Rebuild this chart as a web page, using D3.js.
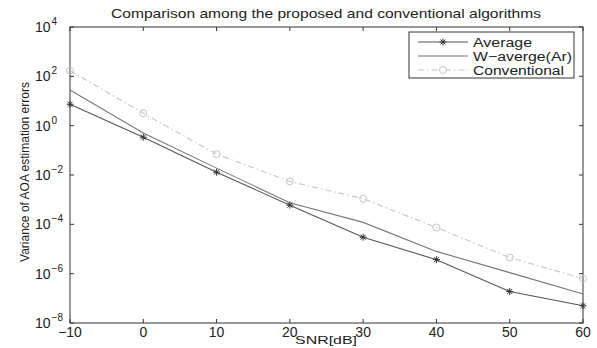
<!DOCTYPE html>
<html>
<head>
<meta charset="utf-8">
<script src="https://cdn.jsdelivr.net/npm/d3@7"></script>
<style>
  body { margin: 0; background: #fff; }
  text { font-family: "Liberation Sans", Arial, sans-serif; fill: #222; }
</style>
</head>
<body>
<div id="chart"></div>
<script>
// data
const snr = [-10, 0, 10, 20, 30, 40, 50, 60];
const average = [7.4, 0.34, 0.013, 6e-4, 3e-5, 3.7e-6, 1.9e-7, 5e-8];
const wAverage = [28, 0.5, 0.019, 7.5e-4, 1.2e-4, 8e-6, 1.1e-6, 1.5e-7];
const conventional = [170, 3.2, 0.07, 5.5e-3, 1.1e-3, 7.4e-5, 4.5e-6, 6.3e-7];
const xTicks = [-10, 0, 10, 20, 30, 40, 50, 60];
const yExponents = [4, 2, 0, -2, -4, -6, -8];
const legendNames = ["Average", "W\u2212averge(Ar)", "Conventional"];

const width = 597, height = 348;
const plotLeft = 70, plotRight = 583, plotTop = 27, plotBottom = 323;

const svg = d3.select("#chart").append("svg")
    .attr("width", width)
    .attr("height", height);

const x = d3.scaleLinear().domain([-10, 60]).range([plotLeft, plotRight]);
const y = d3.scaleLog().domain([1e-8, 1e4]).range([plotBottom, plotTop]);

// box
svg.append("rect")
    .attr("x", plotLeft).attr("y", plotTop)
    .attr("width", plotRight - plotLeft).attr("height", plotBottom - plotTop)
    .attr("fill", "none").attr("stroke", "#333").attr("stroke-width", 1);

// ticks on all four sides, pointing in
const tickLen = 4;
xTicks.forEach(t => {
    svg.append("line").attr("x1", x(t)).attr("x2", x(t))
        .attr("y1", plotBottom).attr("y2", plotBottom - tickLen).attr("stroke", "#333");
    svg.append("line").attr("x1", x(t)).attr("x2", x(t))
        .attr("y1", plotTop).attr("y2", plotTop + tickLen).attr("stroke", "#333");
    svg.append("text")
        .attr("x", x(t)).attr("y", 337)
        .attr("text-anchor", "middle")
        .attr("font-size", 14)
        .text(t < 0 ? "\u2212" + Math.abs(t) : t);
});

yExponents.forEach(e => {
    const yy = y(Math.pow(10, e));
    svg.append("line").attr("x1", plotLeft).attr("x2", plotLeft + tickLen)
        .attr("y1", yy).attr("y2", yy).attr("stroke", "#333");
    svg.append("line").attr("x1", plotRight).attr("x2", plotRight - tickLen)
        .attr("y1", yy).attr("y2", yy).attr("stroke", "#333");
    const lab = svg.append("text")
        .attr("x", 35).attr("y", yy + 5)
        .attr("font-size", 14);
    lab.append("tspan").text("10");
    lab.append("tspan")
        .attr("dy", -7)
        .attr("dx", 1)
        .attr("font-size", 10)
        .text(e < 0 ? "\u2212" + Math.abs(e) : e);
});

// title and axis labels
svg.append("text")
    .attr("x", 326).attr("y", 18)
    .attr("text-anchor", "middle")
    .attr("font-size", 13)
    .attr("textLength", 430)
    .attr("lengthAdjust", "spacingAndGlyphs")
    .text("Comparison among the proposed and conventional algorithms");

svg.append("text")
    .attr("x", 326).attr("y", 344)
    .attr("text-anchor", "middle")
    .attr("font-size", 11)
    .attr("textLength", 62)
    .attr("lengthAdjust", "spacingAndGlyphs")
    .text("SNR[dB]");

svg.append("text")
    .attr("transform", "translate(29,172) rotate(-90)")
    .attr("text-anchor", "middle")
    .attr("font-size", 12)
    .text("Variance of AOA estimation errors");

// series
const line = d3.line().x((d, i) => x(snr[i])).y(d => y(d));
const starPath = r => {
    const d = r * Math.SQRT1_2;
    return `M${-r},0L${r},0M0,${-r}L0,${r}M${-d},${-d}L${d},${d}M${-d},${d}L${d},${-d}`;
};

const series = [
    { name: legendNames[2], values: conventional, color: "#c4c4c4", dash: "6,3,1.5,3", marker: "circle" },
    { name: legendNames[1], values: wAverage, color: "#777", dash: null, marker: null },
    { name: legendNames[0], values: average, color: "#555", dash: null, marker: "star" }
];

series.forEach(s => {
    svg.append("path")
        .datum(s.values)
        .attr("d", line)
        .attr("fill", "none")
        .attr("stroke", s.color)
        .attr("stroke-width", 1.1)
        .attr("stroke-dasharray", s.dash);
    if (s.marker === "circle") {
        svg.selectAll(null).data(s.values).enter().append("circle")
            .attr("cx", (d, i) => x(snr[i])).attr("cy", d => y(d))
            .attr("r", 3.5)
            .attr("fill", "none").attr("stroke", s.color);
    } else if (s.marker === "star") {
        svg.selectAll(null).data(s.values).enter().append("path")
            .attr("transform", (d, i) => `translate(${x(snr[i])},${y(d)})`)
            .attr("d", starPath(3.5))
            .attr("stroke", "#333").attr("stroke-width", 1);
    }
});

// legend
const lg = svg.append("g");
lg.append("rect")
    .attr("x", 409).attr("y", 32)
    .attr("width", 165).attr("height", 46)
    .attr("fill", "#fff").attr("stroke", "#333");

const legendRows = [series[2], series[1], series[0]];
const legendWidths = [59, 99, 91];
legendRows.forEach((s, i) => {
    const yy = 42 + i * 14;
    lg.append("line")
        .attr("x1", 418).attr("x2", 468)
        .attr("y1", yy).attr("y2", yy)
        .attr("stroke", s.color).attr("stroke-width", 1.1)
        .attr("stroke-dasharray", s.dash);
    if (s.marker === "circle") {
        lg.append("circle").attr("cx", 443).attr("cy", yy).attr("r", 3.5)
            .attr("fill", "#fff").attr("stroke", s.color);
    } else if (s.marker === "star") {
        lg.append("path").attr("transform", `translate(443,${yy})`)
            .attr("d", starPath(3.5)).attr("stroke", "#333");
    }
    lg.append("text")
        .attr("x", 473).attr("y", yy + 4.5)
        .attr("font-size", 12.5)
        .attr("textLength", legendWidths[i])
        .attr("lengthAdjust", "spacingAndGlyphs")
        .text(s.name);
});
</script>
</body>
</html>
